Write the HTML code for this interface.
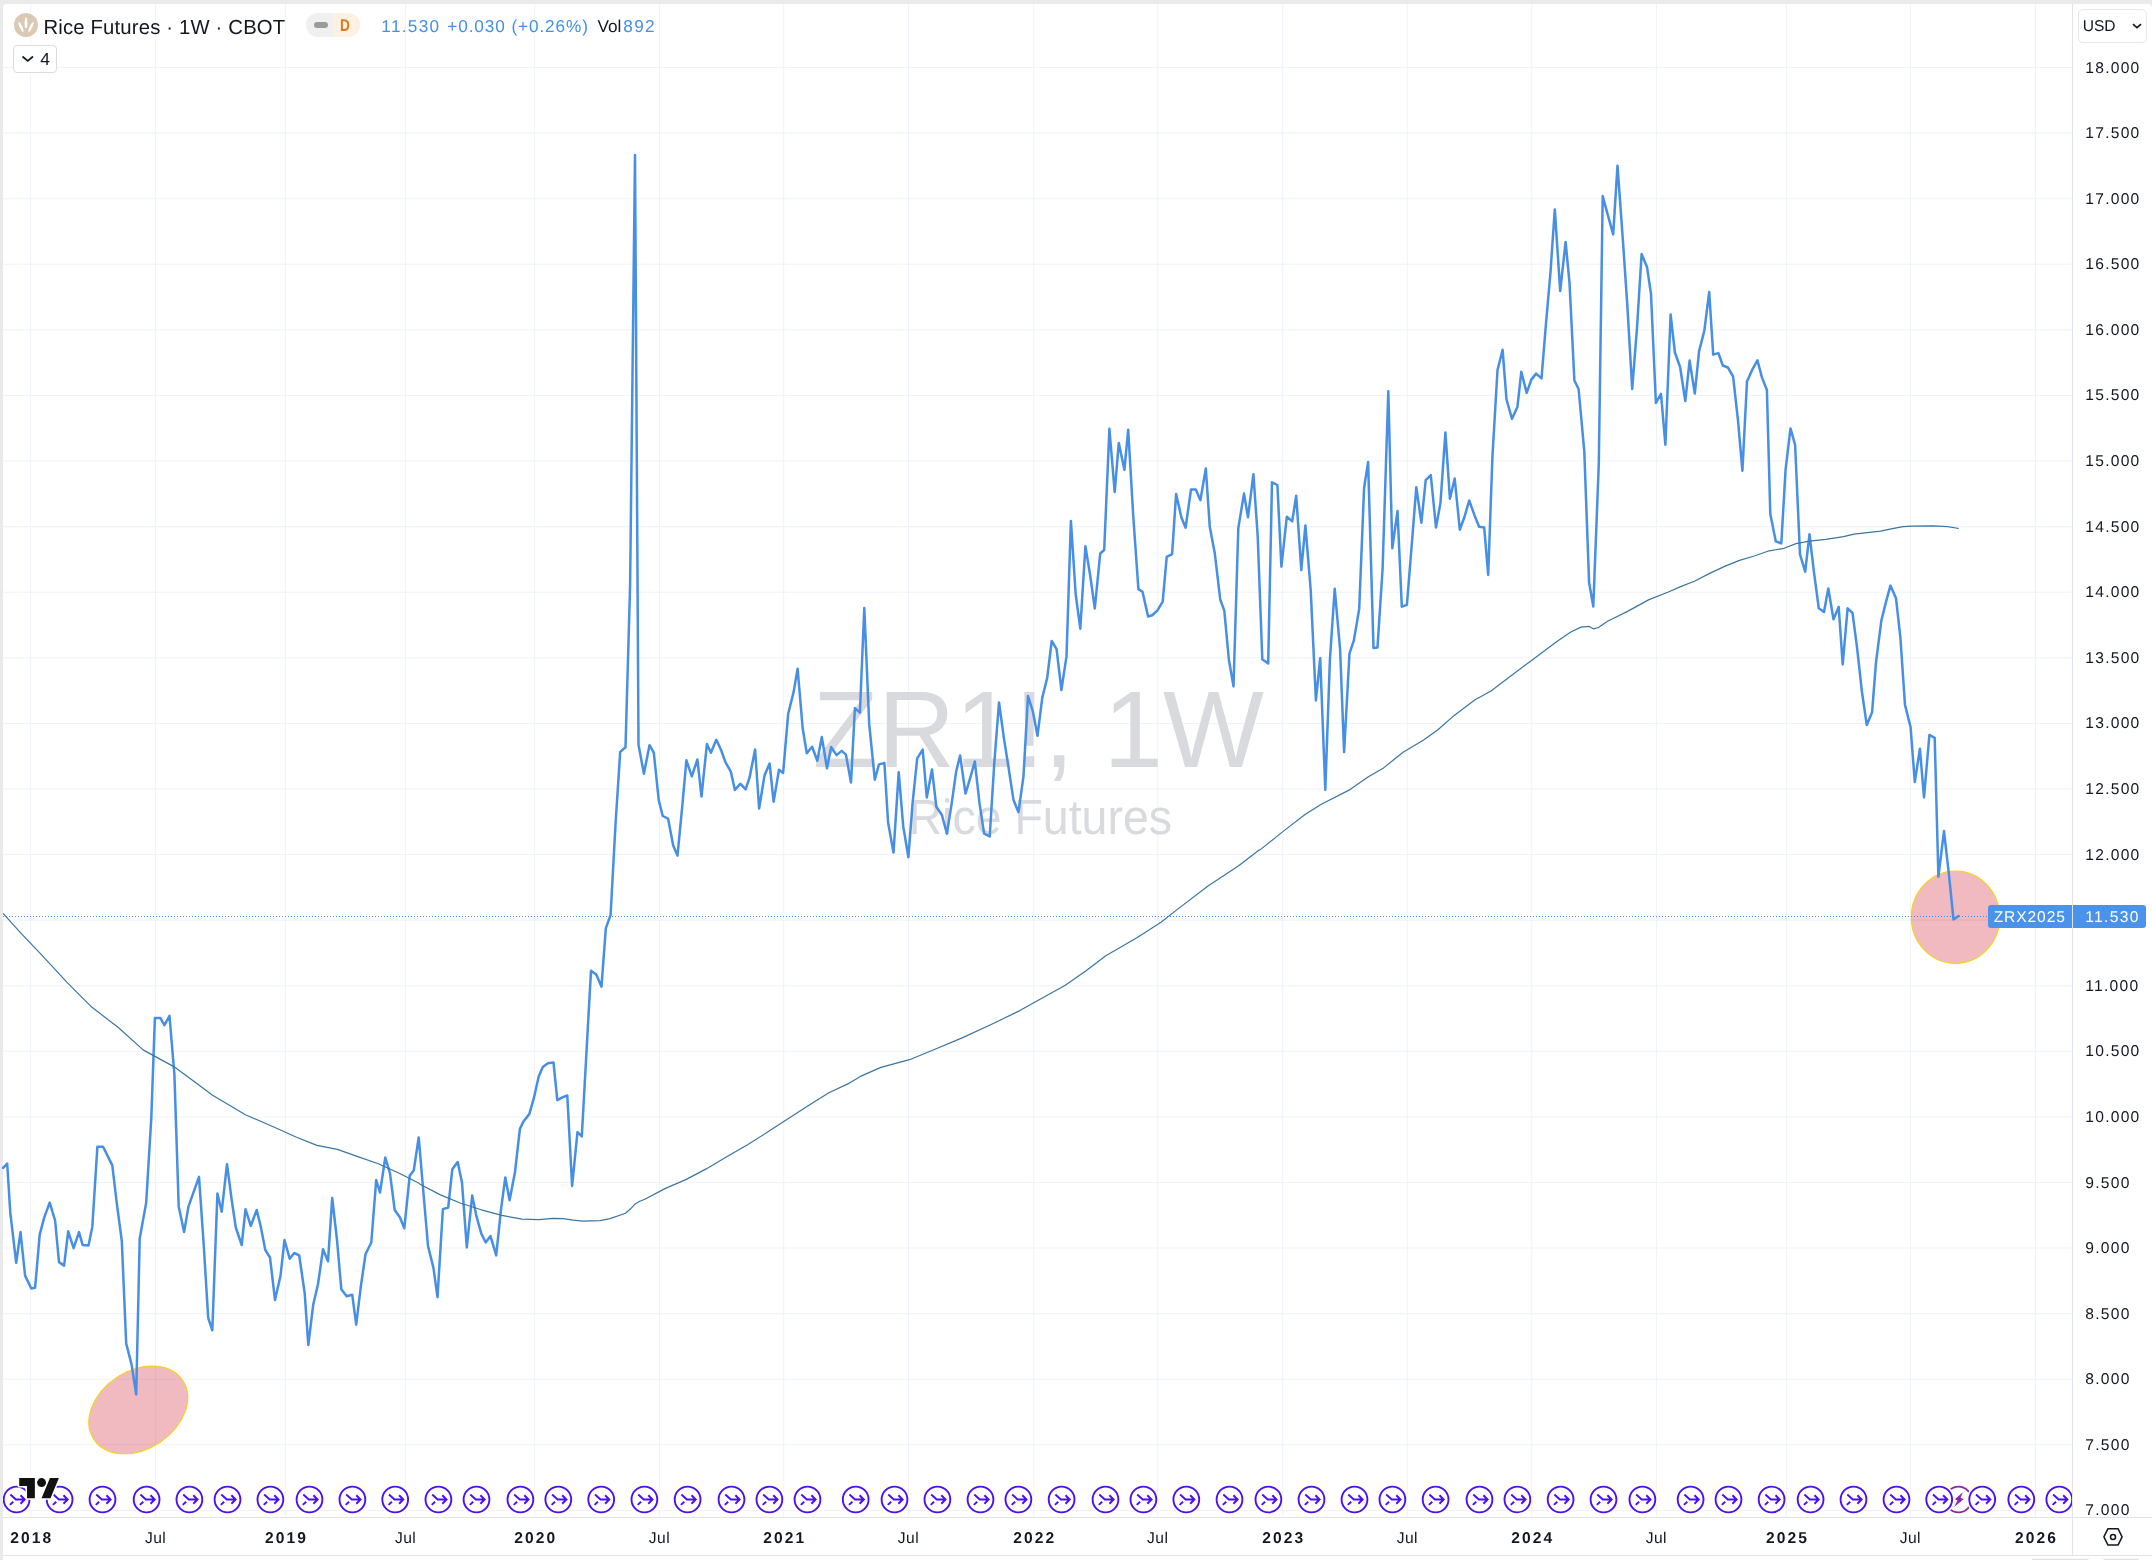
<!DOCTYPE html>
<html><head><meta charset="utf-8"><title>Rice Futures</title>
<style>
html,body{margin:0;padding:0;}
body{width:2152px;height:1560px;background:#eaeaea;overflow:hidden;position:relative;font-family:"Liberation Sans",sans-serif;color:#131722;}
#panel{position:absolute;left:3px;top:4px;width:2149px;height:1556px;background:#fff;border-radius:4px 4px 0 0;overflow:hidden;}
.abs{position:absolute;}
svg{position:absolute;left:0;top:0;overflow:visible;}
.pl{position:absolute;left:2073px;width:79px;text-align:left;font-size:15.6px;letter-spacing:1.25px;line-height:20px;height:20px;white-space:nowrap;}
.tl{position:absolute;top:1527.5px;width:80px;margin-left:-40px;text-align:center;font-size:15.6px;letter-spacing:0.45px;line-height:22px;white-space:nowrap;}
.tl.b{font-weight:bold;letter-spacing:2.1px;text-indent:2.1px;}
</style></head><body>

<div id="panel"></div>
<div id="root" class="abs" style="left:0;top:0;width:2152px;height:1560px;overflow:hidden;will-change:transform;text-rendering:geometricPrecision;">
<svg width="2152" height="1560" viewBox="0 0 2152 1560">
<path d="M30.7 4 V1517 M155.6 4 V1517 M285.4 4 V1517 M405.6 4 V1517 M534.7 4 V1517 M659.5 4 V1517 M783.7 4 V1517 M908.5 4 V1517 M1033.7 4 V1517 M1157.7 4 V1517 M1282.7 4 V1517 M1407.3 4 V1517 M1531.7 4 V1517 M1656.4 4 V1517 M1786.4 4 V1517 M1910.4 4 V1517 M2035.4 4 V1517 M3 67.5 H2072.5 M3 133.1 H2072.5 M3 198.7 H2072.5 M3 264.3 H2072.5 M3 329.8 H2072.5 M3 395.4 H2072.5 M3 461.0 H2072.5 M3 526.6 H2072.5 M3 592.2 H2072.5 M3 657.8 H2072.5 M3 723.4 H2072.5 M3 788.9 H2072.5 M3 854.5 H2072.5 M3 920.1 H2072.5 M3 985.7 H2072.5 M3 1051.3 H2072.5 M3 1116.9 H2072.5 M3 1182.5 H2072.5 M3 1248.0 H2072.5 M3 1313.6 H2072.5 M3 1379.2 H2072.5 M3 1444.8 H2072.5 M3 1510.4 H2072.5" stroke="#f0f3fa" stroke-width="1.05" fill="none"/>
<text x="812.8" y="766.7" textLength="451" lengthAdjust="spacingAndGlyphs" font-family="Liberation Sans" font-size="109.2" fill="#d9dadd">ZR1!, 1W</text>
<text x="908.5" y="833.8" textLength="263.5" lengthAdjust="spacingAndGlyphs" font-family="Liberation Sans" font-size="49.3" fill="#d9dadd">Rice Futures</text>
<ellipse cx="138.3" cy="1409.9" rx="53.3" ry="39" transform="rotate(-33.5 138.3 1409.9)" fill="rgba(204,26,46,0.3)" stroke="#f6d21f" stroke-width="1.2"/>
<ellipse cx="1955.5" cy="917.3" rx="44.2" ry="46.1" fill="rgba(204,26,46,0.3)" stroke="#f6d21f" stroke-width="1.2"/>
<line x1="3" y1="916.5" x2="1988" y2="916.5" stroke="#468fe5" stroke-width="1" stroke-dasharray="1 2" shape-rendering="crispEdges"/>
<polyline points="3.1,1167.9 7.2,1163.6 10.3,1212.8 16.2,1262.8 20.5,1232.1 25.1,1275.6 31.3,1288.5 35.1,1287.7 39.7,1234.6 44.1,1217.9 49.7,1202.6 55.1,1220.5 59.0,1262.1 64.1,1265.6 68.2,1231.3 73.6,1248.2 79.0,1232.1 82.6,1244.9 88.5,1245.6 92.3,1226.9 97.4,1146.7 103.1,1146.7 112.3,1165.4 116.7,1202.6 121.8,1241.0 126.2,1343.6 131.5,1364.1 136.2,1394.4 139.7,1238.5 146.2,1202.6 151.3,1117.9 154.9,1017.9 160.3,1017.9 164.4,1025.1 169.5,1015.9 174.4,1074.4 178.7,1206.4 184.1,1232.1 188.5,1206.4 199.0,1176.9 203.8,1246.2 208.2,1317.9 212.3,1330.3 217.4,1193.6 221.7,1211.7 227.0,1164.2 231.7,1200.0 235.8,1227.5 241.7,1245.0 245.5,1209.2 250.8,1225.8 256.7,1210.0 260.8,1226.7 265.3,1250.0 270.0,1257.5 275.0,1300.0 280.5,1275.8 284.5,1240.0 289.7,1258.7 294.2,1253.0 299.2,1255.3 304.7,1293.3 308.3,1345.0 313.3,1304.2 318.0,1284.2 323.0,1249.2 328.0,1261.3 332.2,1198.0 337.0,1240.0 341.3,1289.2 346.7,1296.3 352.2,1294.7 356.2,1324.7 360.8,1286.7 365.5,1254.2 371.3,1242.5 376.2,1180.0 380.0,1192.5 385.3,1157.5 390.0,1173.3 394.7,1210.0 400.0,1217.5 404.3,1228.3 409.7,1175.8 413.8,1170.3 418.7,1137.5 423.5,1193.5 428.0,1246.0 433.4,1267.6 437.5,1297.2 442.9,1209.1 448.2,1207.5 452.3,1169.3 457.7,1162.0 462.0,1182.7 466.8,1247.4 472.2,1195.4 476.5,1216.4 481.4,1233.9 485.7,1242.5 490.5,1236.1 496.2,1255.4 501.0,1209.7 505.3,1177.4 509.6,1200.2 515.0,1172.0 519.9,1128.9 523.6,1121.3 529.3,1114.1 533.9,1097.9 538.7,1076.4 542.8,1067.0 547.9,1063.2 553.5,1062.6 557.3,1100.1 562.9,1097.1 567.3,1095.5 572.1,1186.0 577.5,1132.1 581.8,1136.4 586.4,1053.5 591.0,970.8 596.3,974.6 601.5,986.7 605.8,928.3 610.6,914.8 615.6,822.7 620.2,751.9 625.5,747.3 630.1,585.8 635.0,155.0 638.5,744.7 643.9,773.7 649.5,745.2 653.8,752.7 658.7,799.9 662.7,816.0 668.1,818.7 673.2,845.6 677.5,855.6 682.1,807.9 686.4,760.3 691.8,776.4 697.4,759.5 701.5,796.6 706.9,744.1 710.9,752.7 716.3,739.8 721.1,750.0 725.4,762.2 730.8,771.6 734.9,789.9 740.3,783.7 745.6,789.4 749.7,777.0 755.1,749.5 759.1,808.5 764.5,775.6 769.6,763.5 773.6,801.7 779.0,769.7 783.1,772.9 788.2,713.7 793.6,692.1 797.6,668.7 802.7,728.5 806.8,753.3 812.1,746.8 817.3,760.7 821.8,736.9 827.0,768.2 831.2,747.1 836.6,755.1 841.7,750.9 845.9,754.6 851.0,782.5 854.9,708.1 859.9,712.7 864.3,608.0 869.2,723.9 874.8,779.7 879.0,764.4 884.4,763.0 888.1,822.5 893.5,852.6 898.7,772.2 903.2,826.2 908.4,857.2 912.5,803.9 917.2,758.3 922.7,749.6 926.8,797.4 932.0,769.5 936.3,806.7 941.9,815.0 946.9,833.6 951.6,803.9 956.2,771.3 960.1,755.5 965.5,793.6 970.2,777.8 974.8,761.5 979.6,803.9 984.1,833.6 989.7,836.4 994.3,763.0 999.0,702.5 1004.0,738.8 1008.7,768.5 1013.5,800.1 1018.5,812.2 1023.5,776.2 1028.0,696.0 1032.9,711.6 1037.5,735.8 1042.3,697.6 1047.2,677.9 1051.7,641.0 1056.6,649.1 1061.4,690.0 1066.5,656.4 1070.9,520.9 1075.7,594.5 1080.3,628.7 1085.4,546.3 1090.2,575.6 1094.8,608.5 1100.2,553.5 1104.2,550.0 1109.4,428.8 1114.7,492.1 1118.8,442.9 1124.4,469.8 1128.2,429.7 1133.1,513.7 1138.4,589.1 1142.5,591.8 1148.1,616.5 1152.2,615.2 1157.3,610.6 1162.7,601.7 1166.7,556.8 1172.1,554.1 1176.1,494.0 1181.5,517.7 1185.6,527.7 1191.0,489.4 1195.8,489.4 1200.4,500.2 1205.8,468.4 1209.8,527.1 1214.7,552.7 1220.3,599.8 1224.3,610.6 1228.9,660.0 1233.5,686.4 1238.3,528.1 1244.0,493.6 1248.0,517.3 1253.4,474.2 1257.7,536.2 1262.3,659.2 1268.2,663.5 1272.0,482.3 1277.4,485.0 1281.4,566.6 1286.8,516.8 1292.2,521.4 1296.2,495.8 1301.3,570.1 1305.4,525.4 1310.7,590.0 1315.9,700.4 1320.2,658.2 1325.3,789.8 1329.9,660.0 1334.7,588.7 1340.1,649.3 1344.1,752.1 1349.5,653.3 1353.8,640.7 1359.2,608.9 1364.1,487.7 1368.1,462.1 1373.5,647.9 1377.5,647.4 1382.6,568.5 1388.3,391.3 1392.3,548.3 1397.5,511.1 1401.8,606.7 1406.9,604.8 1412.0,541.6 1416.3,487.2 1421.4,522.7 1425.7,480.2 1430.8,475.1 1436.0,527.6 1440.5,502.6 1445.4,432.4 1449.9,498.7 1454.7,478.5 1459.8,529.7 1464.7,516.2 1469.2,500.5 1474.3,514.7 1479.1,526.7 1484.2,527.6 1488.2,574.9 1492.4,457.4 1497.5,370.0 1502.6,349.8 1506.5,399.5 1512.0,418.8 1517.4,407.1 1521.3,371.8 1526.7,392.9 1531.3,379.6 1536.1,373.6 1541.5,378.4 1546.0,323.3 1550.5,272.1 1554.8,209.4 1560.2,291.0 1565.6,241.9 1569.5,282.6 1574.4,380.5 1578.6,389.0 1584.3,451.4 1589.1,582.5 1593.3,606.6 1598.8,463.4 1602.7,196.1 1607.8,214.8 1613.2,234.4 1617.5,165.7 1622.9,240.4 1627.4,306.7 1632.2,389.0 1637.0,327.8 1641.6,254.0 1647.0,266.9 1651.0,294.0 1655.9,403.0 1661.0,393.8 1665.4,444.8 1670.6,314.5 1674.9,352.5 1680.1,367.0 1685.3,401.0 1689.6,360.6 1694.8,393.5 1699.1,351.1 1704.3,330.9 1709.2,292.0 1713.2,354.6 1718.4,353.1 1722.8,365.5 1727.9,367.5 1733.1,376.5 1738.0,420.3 1742.4,470.8 1747.0,381.4 1751.9,370.4 1757.4,360.3 1762.0,377.6 1766.9,390.0 1770.3,514.0 1775.8,541.4 1781.3,543.4 1785.6,469.3 1790.5,428.4 1795.1,444.8 1800.0,554.4 1805.2,571.7 1809.5,534.2 1813.9,571.7 1818.8,608.3 1824.0,612.0 1828.3,588.4 1833.5,619.3 1838.7,606.9 1842.7,664.5 1847.6,608.3 1852.5,612.9 1857.1,648.1 1861.9,691.5 1866.8,725.1 1872.1,712.2 1876.0,662.3 1881.4,620.4 1885.8,602.6 1890.4,585.6 1896.0,598.2 1900.4,637.9 1905.0,704.9 1910.6,727.3 1914.8,782.1 1919.9,748.7 1924.0,797.4 1929.4,734.9 1934.7,737.8 1938.4,876.6 1944.0,831.1 1948.9,874.2 1953.5,919.5 1958.6,916.0" fill="none" stroke="#468fe5" stroke-width="2.5" stroke-linejoin="round" stroke-linecap="round"/>
<polyline points="3.1,913.3 20.4,932.7 40.9,954.2 67.5,982.8 92.0,1007.3 118.6,1027.8 143.1,1049.9 173.8,1066.6 190.1,1078.5 212.6,1095.3 245.4,1114.7 276.0,1128.0 296.5,1137.2 316.9,1145.4 337.4,1149.4 357.8,1156.6 378.3,1163.8 398.7,1173.0 419.1,1183.2 420.0,1184.3 440.4,1194.9 460.9,1203.3 481.3,1209.8 501.8,1215.4 522.2,1219.2 538.6,1219.6 552.9,1218.4 563.1,1218.6 573.3,1220.1 582.5,1221.1 599.9,1220.7 610.1,1218.6 625.5,1213.3 630.6,1208.8 634.7,1204.3 639.8,1201.2 644.9,1199.2 665.4,1188.4 685.8,1179.6 706.2,1168.9 726.7,1156.7 747.1,1145.0 767.6,1132.1 788.0,1118.8 808.5,1105.6 828.9,1092.7 849.4,1083.1 860.4,1076.4 880.9,1067.4 909.5,1059.7 932.0,1050.5 962.7,1037.6 993.3,1023.5 1019.9,1010.6 1034.2,1002.4 1064.9,985.4 1085.4,971.3 1105.8,955.8 1136.5,938.0 1161.0,922.3 1177.4,909.4 1208.0,885.9 1238.7,865.8 1259.1,850.1 1260.0,849.9 1282.5,831.9 1305.0,814.6 1321.3,804.3 1350.0,789.6 1368.4,776.7 1382.7,768.6 1403.1,752.2 1423.6,739.9 1437.9,729.7 1454.2,715.4 1474.7,700.1 1491.0,690.9 1509.4,677.0 1531.9,660.2 1556.5,641.8 1570.8,632.0 1581.0,627.1 1589.2,626.4 1593.7,628.9 1598.4,627.5 1607.6,621.3 1628.0,611.1 1648.5,599.9 1668.9,591.7 1680.0,586.9 1694.9,581.0 1709.7,573.4 1724.6,566.4 1739.5,560.4 1754.3,556.0 1769.2,550.8 1784.1,548.3 1796.0,543.6 1809.4,541.1 1825.7,539.3 1843.6,536.7 1854.0,534.1 1880.7,531.2 1891.2,528.9 1903.0,526.7 1912.0,526.1 1932.8,525.9 1947.7,526.7 1958.8,528.5" fill="none" stroke="#3b75a0" stroke-width="1.2" stroke-linejoin="round"/>
</svg>
<div class="abs" style="left:1988px;top:905px;width:83.5px;height:23px;background:#4994ea;border-radius:3px 0 0 3px;color:#fff;font-size:15.6px;letter-spacing:0.9px;line-height:25.6px;text-align:center;">ZRX2025</div>
<div class="abs" style="left:2073px;top:905px;width:73px;height:23px;background:#4994ea;border-radius:0 3px 3px 0;color:#fff;font-size:15.6px;letter-spacing:1.3px;line-height:25.6px;"><span style="position:absolute;left:12.3px;">11.530</span></div>
<svg width="2152" height="1560" viewBox="0 0 2152 1560"><defs><clipPath id="cp"><rect x="3" y="0" width="2069.5" height="1517"/></clipPath>
</defs><g clip-path="url(#cp)">
<g transform="translate(1958.5 1499.5)"><circle cx="0" cy="0" r="15.5" fill="#fff"/><circle cx="0" cy="0" r="12.9" fill="#fff" stroke="#8e24aa" stroke-width="1.9"/><path d="M4.3 -7.3 L-3.6 -0.2 L-1.0 1.1 L-4.3 7.5 L5.3 -0.5 L2.0 -1.5 Z" fill="#8e24aa"/></g>
<g transform="translate(16.6 1499.5)"><circle cx="0" cy="0" r="15.5" fill="#fff"/><circle cx="0" cy="0" r="12.9" fill="#fff" stroke="#4b0ff2" stroke-width="1.9"/><path d="M-6.2 -4.9 L-0.7 0 H7.8 M3.9 -4.2 L8.1 0 L3.9 4.2 M-6.7 5.4 L-3.3 2.3" fill="none" stroke="#4b0ff2" stroke-width="1.95" stroke-linejoin="miter"/></g>
<g transform="translate(59.6 1499.5)"><circle cx="0" cy="0" r="15.5" fill="#fff"/><circle cx="0" cy="0" r="12.9" fill="#fff" stroke="#4b0ff2" stroke-width="1.9"/><path d="M-6.2 -4.9 L-0.7 0 H7.8 M3.9 -4.2 L8.1 0 L3.9 4.2 M-6.7 5.4 L-3.3 2.3" fill="none" stroke="#4b0ff2" stroke-width="1.95" stroke-linejoin="miter"/></g>
<g transform="translate(102.5 1499.5)"><circle cx="0" cy="0" r="15.5" fill="#fff"/><circle cx="0" cy="0" r="12.9" fill="#fff" stroke="#4b0ff2" stroke-width="1.9"/><path d="M-6.2 -4.9 L-0.7 0 H7.8 M3.9 -4.2 L8.1 0 L3.9 4.2 M-6.7 5.4 L-3.3 2.3" fill="none" stroke="#4b0ff2" stroke-width="1.95" stroke-linejoin="miter"/></g>
<g transform="translate(146.6 1499.5)"><circle cx="0" cy="0" r="15.5" fill="#fff"/><circle cx="0" cy="0" r="12.9" fill="#fff" stroke="#4b0ff2" stroke-width="1.9"/><path d="M-6.2 -4.9 L-0.7 0 H7.8 M3.9 -4.2 L8.1 0 L3.9 4.2 M-6.7 5.4 L-3.3 2.3" fill="none" stroke="#4b0ff2" stroke-width="1.95" stroke-linejoin="miter"/></g>
<g transform="translate(189.4 1499.5)"><circle cx="0" cy="0" r="15.5" fill="#fff"/><circle cx="0" cy="0" r="12.9" fill="#fff" stroke="#4b0ff2" stroke-width="1.9"/><path d="M-6.2 -4.9 L-0.7 0 H7.8 M3.9 -4.2 L8.1 0 L3.9 4.2 M-6.7 5.4 L-3.3 2.3" fill="none" stroke="#4b0ff2" stroke-width="1.95" stroke-linejoin="miter"/></g>
<g transform="translate(227.5 1499.5)"><circle cx="0" cy="0" r="15.5" fill="#fff"/><circle cx="0" cy="0" r="12.9" fill="#fff" stroke="#4b0ff2" stroke-width="1.9"/><path d="M-6.2 -4.9 L-0.7 0 H7.8 M3.9 -4.2 L8.1 0 L3.9 4.2 M-6.7 5.4 L-3.3 2.3" fill="none" stroke="#4b0ff2" stroke-width="1.95" stroke-linejoin="miter"/></g>
<g transform="translate(270.4 1499.5)"><circle cx="0" cy="0" r="15.5" fill="#fff"/><circle cx="0" cy="0" r="12.9" fill="#fff" stroke="#4b0ff2" stroke-width="1.9"/><path d="M-6.2 -4.9 L-0.7 0 H7.8 M3.9 -4.2 L8.1 0 L3.9 4.2 M-6.7 5.4 L-3.3 2.3" fill="none" stroke="#4b0ff2" stroke-width="1.95" stroke-linejoin="miter"/></g>
<g transform="translate(309.5 1499.5)"><circle cx="0" cy="0" r="15.5" fill="#fff"/><circle cx="0" cy="0" r="12.9" fill="#fff" stroke="#4b0ff2" stroke-width="1.9"/><path d="M-6.2 -4.9 L-0.7 0 H7.8 M3.9 -4.2 L8.1 0 L3.9 4.2 M-6.7 5.4 L-3.3 2.3" fill="none" stroke="#4b0ff2" stroke-width="1.95" stroke-linejoin="miter"/></g>
<g transform="translate(352.4 1499.5)"><circle cx="0" cy="0" r="15.5" fill="#fff"/><circle cx="0" cy="0" r="12.9" fill="#fff" stroke="#4b0ff2" stroke-width="1.9"/><path d="M-6.2 -4.9 L-0.7 0 H7.8 M3.9 -4.2 L8.1 0 L3.9 4.2 M-6.7 5.4 L-3.3 2.3" fill="none" stroke="#4b0ff2" stroke-width="1.95" stroke-linejoin="miter"/></g>
<g transform="translate(395.2 1499.5)"><circle cx="0" cy="0" r="15.5" fill="#fff"/><circle cx="0" cy="0" r="12.9" fill="#fff" stroke="#4b0ff2" stroke-width="1.9"/><path d="M-6.2 -4.9 L-0.7 0 H7.8 M3.9 -4.2 L8.1 0 L3.9 4.2 M-6.7 5.4 L-3.3 2.3" fill="none" stroke="#4b0ff2" stroke-width="1.95" stroke-linejoin="miter"/></g>
<g transform="translate(438.4 1499.5)"><circle cx="0" cy="0" r="15.5" fill="#fff"/><circle cx="0" cy="0" r="12.9" fill="#fff" stroke="#4b0ff2" stroke-width="1.9"/><path d="M-6.2 -4.9 L-0.7 0 H7.8 M3.9 -4.2 L8.1 0 L3.9 4.2 M-6.7 5.4 L-3.3 2.3" fill="none" stroke="#4b0ff2" stroke-width="1.95" stroke-linejoin="miter"/></g>
<g transform="translate(476.5 1499.5)"><circle cx="0" cy="0" r="15.5" fill="#fff"/><circle cx="0" cy="0" r="12.9" fill="#fff" stroke="#4b0ff2" stroke-width="1.9"/><path d="M-6.2 -4.9 L-0.7 0 H7.8 M3.9 -4.2 L8.1 0 L3.9 4.2 M-6.7 5.4 L-3.3 2.3" fill="none" stroke="#4b0ff2" stroke-width="1.95" stroke-linejoin="miter"/></g>
<g transform="translate(520.4 1499.5)"><circle cx="0" cy="0" r="15.5" fill="#fff"/><circle cx="0" cy="0" r="12.9" fill="#fff" stroke="#4b0ff2" stroke-width="1.9"/><path d="M-6.2 -4.9 L-0.7 0 H7.8 M3.9 -4.2 L8.1 0 L3.9 4.2 M-6.7 5.4 L-3.3 2.3" fill="none" stroke="#4b0ff2" stroke-width="1.95" stroke-linejoin="miter"/></g>
<g transform="translate(558.3 1499.5)"><circle cx="0" cy="0" r="15.5" fill="#fff"/><circle cx="0" cy="0" r="12.9" fill="#fff" stroke="#4b0ff2" stroke-width="1.9"/><path d="M-6.2 -4.9 L-0.7 0 H7.8 M3.9 -4.2 L8.1 0 L3.9 4.2 M-6.7 5.4 L-3.3 2.3" fill="none" stroke="#4b0ff2" stroke-width="1.95" stroke-linejoin="miter"/></g>
<g transform="translate(601.2 1499.5)"><circle cx="0" cy="0" r="15.5" fill="#fff"/><circle cx="0" cy="0" r="12.9" fill="#fff" stroke="#4b0ff2" stroke-width="1.9"/><path d="M-6.2 -4.9 L-0.7 0 H7.8 M3.9 -4.2 L8.1 0 L3.9 4.2 M-6.7 5.4 L-3.3 2.3" fill="none" stroke="#4b0ff2" stroke-width="1.95" stroke-linejoin="miter"/></g>
<g transform="translate(644.4 1499.5)"><circle cx="0" cy="0" r="15.5" fill="#fff"/><circle cx="0" cy="0" r="12.9" fill="#fff" stroke="#4b0ff2" stroke-width="1.9"/><path d="M-6.2 -4.9 L-0.7 0 H7.8 M3.9 -4.2 L8.1 0 L3.9 4.2 M-6.7 5.4 L-3.3 2.3" fill="none" stroke="#4b0ff2" stroke-width="1.95" stroke-linejoin="miter"/></g>
<g transform="translate(687.6 1499.5)"><circle cx="0" cy="0" r="15.5" fill="#fff"/><circle cx="0" cy="0" r="12.9" fill="#fff" stroke="#4b0ff2" stroke-width="1.9"/><path d="M-6.2 -4.9 L-0.7 0 H7.8 M3.9 -4.2 L8.1 0 L3.9 4.2 M-6.7 5.4 L-3.3 2.3" fill="none" stroke="#4b0ff2" stroke-width="1.95" stroke-linejoin="miter"/></g>
<g transform="translate(731.5 1499.5)"><circle cx="0" cy="0" r="15.5" fill="#fff"/><circle cx="0" cy="0" r="12.9" fill="#fff" stroke="#4b0ff2" stroke-width="1.9"/><path d="M-6.2 -4.9 L-0.7 0 H7.8 M3.9 -4.2 L8.1 0 L3.9 4.2 M-6.7 5.4 L-3.3 2.3" fill="none" stroke="#4b0ff2" stroke-width="1.95" stroke-linejoin="miter"/></g>
<g transform="translate(769.4 1499.5)"><circle cx="0" cy="0" r="15.5" fill="#fff"/><circle cx="0" cy="0" r="12.9" fill="#fff" stroke="#4b0ff2" stroke-width="1.9"/><path d="M-6.2 -4.9 L-0.7 0 H7.8 M3.9 -4.2 L8.1 0 L3.9 4.2 M-6.7 5.4 L-3.3 2.3" fill="none" stroke="#4b0ff2" stroke-width="1.95" stroke-linejoin="miter"/></g>
<g transform="translate(807.5 1499.5)"><circle cx="0" cy="0" r="15.5" fill="#fff"/><circle cx="0" cy="0" r="12.9" fill="#fff" stroke="#4b0ff2" stroke-width="1.9"/><path d="M-6.2 -4.9 L-0.7 0 H7.8 M3.9 -4.2 L8.1 0 L3.9 4.2 M-6.7 5.4 L-3.3 2.3" fill="none" stroke="#4b0ff2" stroke-width="1.95" stroke-linejoin="miter"/></g>
<g transform="translate(855.7 1499.5)"><circle cx="0" cy="0" r="15.5" fill="#fff"/><circle cx="0" cy="0" r="12.9" fill="#fff" stroke="#4b0ff2" stroke-width="1.9"/><path d="M-6.2 -4.9 L-0.7 0 H7.8 M3.9 -4.2 L8.1 0 L3.9 4.2 M-6.7 5.4 L-3.3 2.3" fill="none" stroke="#4b0ff2" stroke-width="1.95" stroke-linejoin="miter"/></g>
<g transform="translate(894.5 1499.5)"><circle cx="0" cy="0" r="15.5" fill="#fff"/><circle cx="0" cy="0" r="12.9" fill="#fff" stroke="#4b0ff2" stroke-width="1.9"/><path d="M-6.2 -4.9 L-0.7 0 H7.8 M3.9 -4.2 L8.1 0 L3.9 4.2 M-6.7 5.4 L-3.3 2.3" fill="none" stroke="#4b0ff2" stroke-width="1.95" stroke-linejoin="miter"/></g>
<g transform="translate(937.4 1499.5)"><circle cx="0" cy="0" r="15.5" fill="#fff"/><circle cx="0" cy="0" r="12.9" fill="#fff" stroke="#4b0ff2" stroke-width="1.9"/><path d="M-6.2 -4.9 L-0.7 0 H7.8 M3.9 -4.2 L8.1 0 L3.9 4.2 M-6.7 5.4 L-3.3 2.3" fill="none" stroke="#4b0ff2" stroke-width="1.95" stroke-linejoin="miter"/></g>
<g transform="translate(980.5 1499.5)"><circle cx="0" cy="0" r="15.5" fill="#fff"/><circle cx="0" cy="0" r="12.9" fill="#fff" stroke="#4b0ff2" stroke-width="1.9"/><path d="M-6.2 -4.9 L-0.7 0 H7.8 M3.9 -4.2 L8.1 0 L3.9 4.2 M-6.7 5.4 L-3.3 2.3" fill="none" stroke="#4b0ff2" stroke-width="1.95" stroke-linejoin="miter"/></g>
<g transform="translate(1018.4 1499.5)"><circle cx="0" cy="0" r="15.5" fill="#fff"/><circle cx="0" cy="0" r="12.9" fill="#fff" stroke="#4b0ff2" stroke-width="1.9"/><path d="M-6.2 -4.9 L-0.7 0 H7.8 M3.9 -4.2 L8.1 0 L3.9 4.2 M-6.7 5.4 L-3.3 2.3" fill="none" stroke="#4b0ff2" stroke-width="1.95" stroke-linejoin="miter"/></g>
<g transform="translate(1061.6 1499.5)"><circle cx="0" cy="0" r="15.5" fill="#fff"/><circle cx="0" cy="0" r="12.9" fill="#fff" stroke="#4b0ff2" stroke-width="1.9"/><path d="M-6.2 -4.9 L-0.7 0 H7.8 M3.9 -4.2 L8.1 0 L3.9 4.2 M-6.7 5.4 L-3.3 2.3" fill="none" stroke="#4b0ff2" stroke-width="1.95" stroke-linejoin="miter"/></g>
<g transform="translate(1105.5 1499.5)"><circle cx="0" cy="0" r="15.5" fill="#fff"/><circle cx="0" cy="0" r="12.9" fill="#fff" stroke="#4b0ff2" stroke-width="1.9"/><path d="M-6.2 -4.9 L-0.7 0 H7.8 M3.9 -4.2 L8.1 0 L3.9 4.2 M-6.7 5.4 L-3.3 2.3" fill="none" stroke="#4b0ff2" stroke-width="1.95" stroke-linejoin="miter"/></g>
<g transform="translate(1143.4 1499.5)"><circle cx="0" cy="0" r="15.5" fill="#fff"/><circle cx="0" cy="0" r="12.9" fill="#fff" stroke="#4b0ff2" stroke-width="1.9"/><path d="M-6.2 -4.9 L-0.7 0 H7.8 M3.9 -4.2 L8.1 0 L3.9 4.2 M-6.7 5.4 L-3.3 2.3" fill="none" stroke="#4b0ff2" stroke-width="1.95" stroke-linejoin="miter"/></g>
<g transform="translate(1186.3 1499.5)"><circle cx="0" cy="0" r="15.5" fill="#fff"/><circle cx="0" cy="0" r="12.9" fill="#fff" stroke="#4b0ff2" stroke-width="1.9"/><path d="M-6.2 -4.9 L-0.7 0 H7.8 M3.9 -4.2 L8.1 0 L3.9 4.2 M-6.7 5.4 L-3.3 2.3" fill="none" stroke="#4b0ff2" stroke-width="1.95" stroke-linejoin="miter"/></g>
<g transform="translate(1229.5 1499.5)"><circle cx="0" cy="0" r="15.5" fill="#fff"/><circle cx="0" cy="0" r="12.9" fill="#fff" stroke="#4b0ff2" stroke-width="1.9"/><path d="M-6.2 -4.9 L-0.7 0 H7.8 M3.9 -4.2 L8.1 0 L3.9 4.2 M-6.7 5.4 L-3.3 2.3" fill="none" stroke="#4b0ff2" stroke-width="1.95" stroke-linejoin="miter"/></g>
<g transform="translate(1268.4 1499.5)"><circle cx="0" cy="0" r="15.5" fill="#fff"/><circle cx="0" cy="0" r="12.9" fill="#fff" stroke="#4b0ff2" stroke-width="1.9"/><path d="M-6.2 -4.9 L-0.7 0 H7.8 M3.9 -4.2 L8.1 0 L3.9 4.2 M-6.7 5.4 L-3.3 2.3" fill="none" stroke="#4b0ff2" stroke-width="1.95" stroke-linejoin="miter"/></g>
<g transform="translate(1311.5 1499.5)"><circle cx="0" cy="0" r="15.5" fill="#fff"/><circle cx="0" cy="0" r="12.9" fill="#fff" stroke="#4b0ff2" stroke-width="1.9"/><path d="M-6.2 -4.9 L-0.7 0 H7.8 M3.9 -4.2 L8.1 0 L3.9 4.2 M-6.7 5.4 L-3.3 2.3" fill="none" stroke="#4b0ff2" stroke-width="1.95" stroke-linejoin="miter"/></g>
<g transform="translate(1354.5 1499.5)"><circle cx="0" cy="0" r="15.5" fill="#fff"/><circle cx="0" cy="0" r="12.9" fill="#fff" stroke="#4b0ff2" stroke-width="1.9"/><path d="M-6.2 -4.9 L-0.7 0 H7.8 M3.9 -4.2 L8.1 0 L3.9 4.2 M-6.7 5.4 L-3.3 2.3" fill="none" stroke="#4b0ff2" stroke-width="1.95" stroke-linejoin="miter"/></g>
<g transform="translate(1392.4 1499.5)"><circle cx="0" cy="0" r="15.5" fill="#fff"/><circle cx="0" cy="0" r="12.9" fill="#fff" stroke="#4b0ff2" stroke-width="1.9"/><path d="M-6.2 -4.9 L-0.7 0 H7.8 M3.9 -4.2 L8.1 0 L3.9 4.2 M-6.7 5.4 L-3.3 2.3" fill="none" stroke="#4b0ff2" stroke-width="1.95" stroke-linejoin="miter"/></g>
<g transform="translate(1435.6 1499.5)"><circle cx="0" cy="0" r="15.5" fill="#fff"/><circle cx="0" cy="0" r="12.9" fill="#fff" stroke="#4b0ff2" stroke-width="1.9"/><path d="M-6.2 -4.9 L-0.7 0 H7.8 M3.9 -4.2 L8.1 0 L3.9 4.2 M-6.7 5.4 L-3.3 2.3" fill="none" stroke="#4b0ff2" stroke-width="1.95" stroke-linejoin="miter"/></g>
<g transform="translate(1479.5 1499.5)"><circle cx="0" cy="0" r="15.5" fill="#fff"/><circle cx="0" cy="0" r="12.9" fill="#fff" stroke="#4b0ff2" stroke-width="1.9"/><path d="M-6.2 -4.9 L-0.7 0 H7.8 M3.9 -4.2 L8.1 0 L3.9 4.2 M-6.7 5.4 L-3.3 2.3" fill="none" stroke="#4b0ff2" stroke-width="1.95" stroke-linejoin="miter"/></g>
<g transform="translate(1517.4 1499.5)"><circle cx="0" cy="0" r="15.5" fill="#fff"/><circle cx="0" cy="0" r="12.9" fill="#fff" stroke="#4b0ff2" stroke-width="1.9"/><path d="M-6.2 -4.9 L-0.7 0 H7.8 M3.9 -4.2 L8.1 0 L3.9 4.2 M-6.7 5.4 L-3.3 2.3" fill="none" stroke="#4b0ff2" stroke-width="1.95" stroke-linejoin="miter"/></g>
<g transform="translate(1560.6 1499.5)"><circle cx="0" cy="0" r="15.5" fill="#fff"/><circle cx="0" cy="0" r="12.9" fill="#fff" stroke="#4b0ff2" stroke-width="1.9"/><path d="M-6.2 -4.9 L-0.7 0 H7.8 M3.9 -4.2 L8.1 0 L3.9 4.2 M-6.7 5.4 L-3.3 2.3" fill="none" stroke="#4b0ff2" stroke-width="1.95" stroke-linejoin="miter"/></g>
<g transform="translate(1603.5 1499.5)"><circle cx="0" cy="0" r="15.5" fill="#fff"/><circle cx="0" cy="0" r="12.9" fill="#fff" stroke="#4b0ff2" stroke-width="1.9"/><path d="M-6.2 -4.9 L-0.7 0 H7.8 M3.9 -4.2 L8.1 0 L3.9 4.2 M-6.7 5.4 L-3.3 2.3" fill="none" stroke="#4b0ff2" stroke-width="1.95" stroke-linejoin="miter"/></g>
<g transform="translate(1642.4 1499.5)"><circle cx="0" cy="0" r="15.5" fill="#fff"/><circle cx="0" cy="0" r="12.9" fill="#fff" stroke="#4b0ff2" stroke-width="1.9"/><path d="M-6.2 -4.9 L-0.7 0 H7.8 M3.9 -4.2 L8.1 0 L3.9 4.2 M-6.7 5.4 L-3.3 2.3" fill="none" stroke="#4b0ff2" stroke-width="1.95" stroke-linejoin="miter"/></g>
<g transform="translate(1690.6 1499.5)"><circle cx="0" cy="0" r="15.5" fill="#fff"/><circle cx="0" cy="0" r="12.9" fill="#fff" stroke="#4b0ff2" stroke-width="1.9"/><path d="M-6.2 -4.9 L-0.7 0 H7.8 M3.9 -4.2 L8.1 0 L3.9 4.2 M-6.7 5.4 L-3.3 2.3" fill="none" stroke="#4b0ff2" stroke-width="1.95" stroke-linejoin="miter"/></g>
<g transform="translate(1728.5 1499.5)"><circle cx="0" cy="0" r="15.5" fill="#fff"/><circle cx="0" cy="0" r="12.9" fill="#fff" stroke="#4b0ff2" stroke-width="1.9"/><path d="M-6.2 -4.9 L-0.7 0 H7.8 M3.9 -4.2 L8.1 0 L3.9 4.2 M-6.7 5.4 L-3.3 2.3" fill="none" stroke="#4b0ff2" stroke-width="1.95" stroke-linejoin="miter"/></g>
<g transform="translate(1771.6 1499.5)"><circle cx="0" cy="0" r="15.5" fill="#fff"/><circle cx="0" cy="0" r="12.9" fill="#fff" stroke="#4b0ff2" stroke-width="1.9"/><path d="M-6.2 -4.9 L-0.7 0 H7.8 M3.9 -4.2 L8.1 0 L3.9 4.2 M-6.7 5.4 L-3.3 2.3" fill="none" stroke="#4b0ff2" stroke-width="1.95" stroke-linejoin="miter"/></g>
<g transform="translate(1810.6 1499.5)"><circle cx="0" cy="0" r="15.5" fill="#fff"/><circle cx="0" cy="0" r="12.9" fill="#fff" stroke="#4b0ff2" stroke-width="1.9"/><path d="M-6.2 -4.9 L-0.7 0 H7.8 M3.9 -4.2 L8.1 0 L3.9 4.2 M-6.7 5.4 L-3.3 2.3" fill="none" stroke="#4b0ff2" stroke-width="1.95" stroke-linejoin="miter"/></g>
<g transform="translate(1853.5 1499.5)"><circle cx="0" cy="0" r="15.5" fill="#fff"/><circle cx="0" cy="0" r="12.9" fill="#fff" stroke="#4b0ff2" stroke-width="1.9"/><path d="M-6.2 -4.9 L-0.7 0 H7.8 M3.9 -4.2 L8.1 0 L3.9 4.2 M-6.7 5.4 L-3.3 2.3" fill="none" stroke="#4b0ff2" stroke-width="1.95" stroke-linejoin="miter"/></g>
<g transform="translate(1896.5 1499.5)"><circle cx="0" cy="0" r="15.5" fill="#fff"/><circle cx="0" cy="0" r="12.9" fill="#fff" stroke="#4b0ff2" stroke-width="1.9"/><path d="M-6.2 -4.9 L-0.7 0 H7.8 M3.9 -4.2 L8.1 0 L3.9 4.2 M-6.7 5.4 L-3.3 2.3" fill="none" stroke="#4b0ff2" stroke-width="1.95" stroke-linejoin="miter"/></g>
<g transform="translate(1939.2 1499.5)"><circle cx="0" cy="0" r="15.5" fill="#fff"/><circle cx="0" cy="0" r="12.9" fill="#fff" stroke="#4b0ff2" stroke-width="1.9"/><path d="M-6.2 -4.9 L-0.7 0 H7.8 M3.9 -4.2 L8.1 0 L3.9 4.2 M-6.7 5.4 L-3.3 2.3" fill="none" stroke="#4b0ff2" stroke-width="1.95" stroke-linejoin="miter"/></g>
<g transform="translate(1982.2 1499.5)"><circle cx="0" cy="0" r="15.5" fill="#fff"/><circle cx="0" cy="0" r="12.9" fill="#fff" stroke="#4b0ff2" stroke-width="1.9"/><path d="M-6.2 -4.9 L-0.7 0 H7.8 M3.9 -4.2 L8.1 0 L3.9 4.2 M-6.7 5.4 L-3.3 2.3" fill="none" stroke="#4b0ff2" stroke-width="1.95" stroke-linejoin="miter"/></g>
<g transform="translate(2021.3 1499.5)"><circle cx="0" cy="0" r="15.5" fill="#fff"/><circle cx="0" cy="0" r="12.9" fill="#fff" stroke="#4b0ff2" stroke-width="1.9"/><path d="M-6.2 -4.9 L-0.7 0 H7.8 M3.9 -4.2 L8.1 0 L3.9 4.2 M-6.7 5.4 L-3.3 2.3" fill="none" stroke="#4b0ff2" stroke-width="1.95" stroke-linejoin="miter"/></g>
<g transform="translate(2059.3 1499.5)"><circle cx="0" cy="0" r="15.5" fill="#fff"/><circle cx="0" cy="0" r="12.9" fill="#fff" stroke="#4b0ff2" stroke-width="1.9"/><path d="M-6.2 -4.9 L-0.7 0 H7.8 M3.9 -4.2 L8.1 0 L3.9 4.2 M-6.7 5.4 L-3.3 2.3" fill="none" stroke="#4b0ff2" stroke-width="1.95" stroke-linejoin="miter"/></g>
</g>
<g transform="translate(19.2 1473.6) scale(1.118)"><g fill="#fff" stroke="#fff" stroke-width="2.8" stroke-linejoin="round"><path d="M14 22H7V11H0V4h14v18zM28 22h-8l7.5-18h8L28 22z"/><circle cx="20" cy="8" r="4"/></g><g fill="#111"><path d="M14 22H7V11H0V4h14v18zM28 22h-8l7.5-18h8L28 22z"/><circle cx="20" cy="8" r="4"/></g></g>
<path d="M2072.5 4 V1555 M3 1517.5 H2152 M3 1555.5 H2152" stroke="#e0e3eb" stroke-width="1" fill="none" shape-rendering="crispEdges"/>
<g transform="translate(2113 1536.9)" fill="none" stroke="#131722" stroke-width="1.5" stroke-linejoin="round"><path d="M-9.1 0 L-5 -8.2 H5 L9.1 0 L5 8.2 H-5 Z"/><circle cx="0" cy="0" r="2.5"/></g>
<path d="M2032 1559.5 H2088.5 M2103.5 1559.5 H2139" stroke="#e3e3e6" stroke-width="1.5" fill="none"/>
</svg>
<div class="pl" style="top:58.5px;left:2085.3px;">18.000</div>
<div class="pl" style="top:124.1px;left:2085.3px;">17.500</div>
<div class="pl" style="top:189.7px;left:2085.3px;">17.000</div>
<div class="pl" style="top:255.3px;left:2085.3px;">16.500</div>
<div class="pl" style="top:320.8px;left:2085.3px;">16.000</div>
<div class="pl" style="top:386.4px;left:2085.3px;">15.500</div>
<div class="pl" style="top:452.0px;left:2085.3px;">15.000</div>
<div class="pl" style="top:517.6px;left:2085.3px;">14.500</div>
<div class="pl" style="top:583.2px;left:2085.3px;">14.000</div>
<div class="pl" style="top:648.8px;left:2085.3px;">13.500</div>
<div class="pl" style="top:714.4px;left:2085.3px;">13.000</div>
<div class="pl" style="top:779.9px;left:2085.3px;">12.500</div>
<div class="pl" style="top:845.5px;left:2085.3px;">12.000</div>
<div class="pl" style="top:976.7px;left:2085.3px;">11.000</div>
<div class="pl" style="top:1042.3px;left:2085.3px;">10.500</div>
<div class="pl" style="top:1107.9px;left:2085.3px;">10.000</div>
<div class="pl" style="top:1173.5px;left:2085.3px;">9.500</div>
<div class="pl" style="top:1239.0px;left:2085.3px;">9.000</div>
<div class="pl" style="top:1304.6px;left:2085.3px;">8.500</div>
<div class="pl" style="top:1370.2px;left:2085.3px;">8.000</div>
<div class="pl" style="top:1435.8px;left:2085.3px;">7.500</div>
<div class="pl" style="top:1501.4px;left:2085.3px;">7.000</div>
<div class="tl b" style="left:30.7px;">2018</div>
<div class="tl" style="left:155.6px;">Jul</div>
<div class="tl b" style="left:285.4px;">2019</div>
<div class="tl" style="left:405.6px;">Jul</div>
<div class="tl b" style="left:534.7px;">2020</div>
<div class="tl" style="left:659.5px;">Jul</div>
<div class="tl b" style="left:783.7px;">2021</div>
<div class="tl" style="left:908.5px;">Jul</div>
<div class="tl b" style="left:1033.7px;">2022</div>
<div class="tl" style="left:1157.7px;">Jul</div>
<div class="tl b" style="left:1282.7px;">2023</div>
<div class="tl" style="left:1407.3px;">Jul</div>
<div class="tl b" style="left:1531.7px;">2024</div>
<div class="tl" style="left:1656.4px;">Jul</div>
<div class="tl b" style="left:1786.4px;">2025</div>
<div class="tl" style="left:1910.4px;">Jul</div>
<div class="tl b" style="left:2035.4px;">2026</div>
<div class="abs" style="left:2078px;top:9px;width:67px;height:32px;border:1px solid #e6e8ee;border-radius:5px;background:#fff;"><span class="abs" style="left:3.7px;top:0.4px;line-height:33px;font-size:15.6px;letter-spacing:0px;">USD</span><svg width="12" height="8" viewBox="0 0 12 8" style="left:52.4px;top:12.3px;"><path d="M2.6 2.7 L6 5.6 L9.4 2.7" fill="none" stroke="#131722" stroke-width="1.6" stroke-linecap="square"/></svg></div>
<svg width="24" height="24" viewBox="0 0 24 24" style="left:14px;top:13px;"><circle cx="12" cy="12" r="12" fill="#dbc9b4"/><g fill="#fff"><path d="M12 3.6 C13.7 6.8 13.7 11.6 12.9 15 H11.1 C10.3 11.6 10.3 6.8 12 3.6Z"/><path d="M4 8.5 C7.2 10.5 9.3 14.5 9.7 18.6 L8.6 19 C6.5 16.5 4.6 12.5 4 8.5Z"/><path d="M20 8.5 C16.8 10.5 14.7 14.5 14.3 18.6 L15.4 19 C17.5 16.5 19.4 12.5 20 8.5Z"/></g></svg>
<div class="abs" id="title" style="left:43.5px;top:14.7px;line-height:26px;font-size:20.3px;letter-spacing:0.17px;white-space:nowrap;">Rice Futures · 1W · CBOT</div>
<div class="abs" style="left:306px;top:13px;width:54px;height:24px;border-radius:12px;overflow:hidden;background:#f0f0f0;"><div class="abs" style="left:27px;top:0;width:27px;height:24px;background:#fdf1e2;"></div><div class="abs" style="left:8.1px;top:9.2px;width:13.7px;height:5.6px;border-radius:3px;background:#9b9b9b;"></div><div class="abs" style="left:34px;top:0;line-height:25px;font-size:17px;font-weight:bold;color:#e2781c;transform:scaleX(0.8);transform-origin:left;">D</div></div>
<div class="abs" id="v1" style="left:381.3px;top:12.5px;line-height:26px;font-size:17.2px;letter-spacing:1.3px;color:#468fe5;white-space:nowrap;">11.530</div>
<div class="abs" id="v2" style="left:447.3px;top:12.5px;line-height:26px;font-size:17.2px;letter-spacing:0.9px;color:#468fe5;white-space:nowrap;">+0.030 (+0.26%)</div>
<div class="abs" id="v3" style="left:597.5px;top:12.5px;line-height:26px;font-size:17.2px;letter-spacing:0px;white-space:nowrap;">Vol</div>
<div class="abs" id="v4" style="left:623.2px;top:12.5px;line-height:26px;font-size:17.2px;letter-spacing:1.4px;color:#468fe5;white-space:nowrap;">892</div>
<div class="abs" style="left:13px;top:45px;width:42px;height:26px;border:1px solid #dcdcdf;border-radius:4px;background:rgba(255,255,255,0.88);"><svg width="14" height="8" viewBox="0 0 14 8" style="left:7px;top:9.3px;"><path d="M1.5 1.5 L6.7 6 L12 1.5" fill="none" stroke="#131722" stroke-width="1.7"/></svg><span class="abs" style="left:26.2px;top:0.3px;line-height:26px;font-size:17.5px;">4</span></div>
</div></body></html>
